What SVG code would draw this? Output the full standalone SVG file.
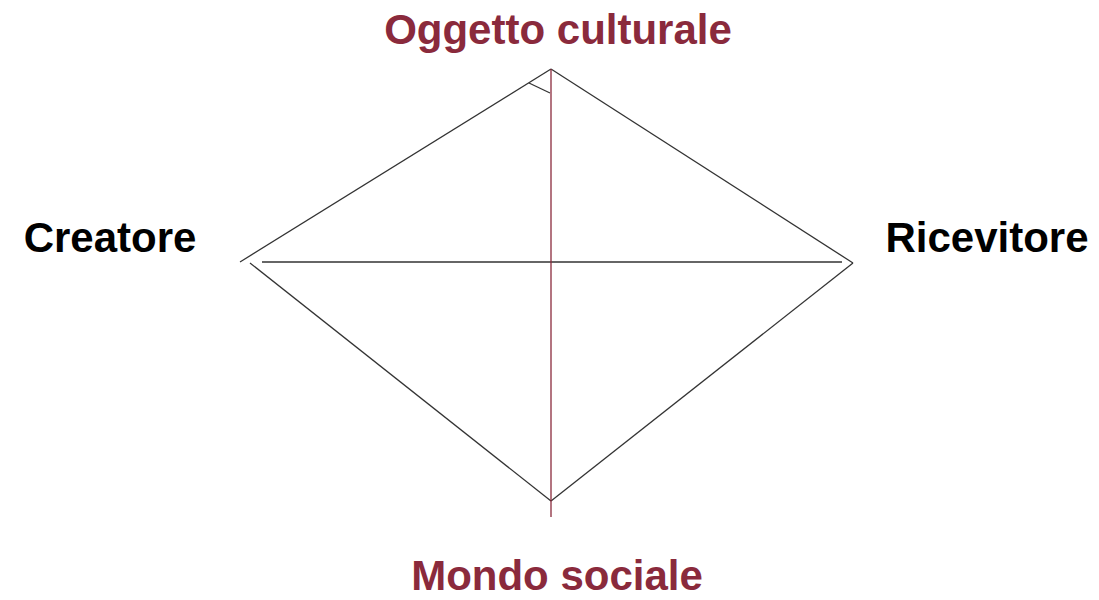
<svg xmlns="http://www.w3.org/2000/svg" width="1099" height="600" viewBox="0 0 1099 600">
<style>
.lbl{font-family:"Liberation Sans",Arial,sans-serif;font-weight:bold;font-size:42px}
.red{fill:#8a2a3c}
.blk{fill:#000}
.edge{stroke:#333;stroke-width:1.3;fill:none}
.axis{stroke:#8a2a3c;stroke-width:1.3;fill:none}
</style>
<rect width="1099" height="600" fill="#fff"/>
<g id="connectors">
<line class="edge" x1="240" y1="262" x2="551" y2="69"/>
<line class="edge" x1="551" y1="69" x2="853" y2="263"/>
<line class="edge" x1="853" y1="263" x2="551" y2="501"/>
<line class="edge" x1="551" y1="501" x2="250" y2="263"/>
<line class="edge" x1="262" y1="262" x2="842" y2="262"/>
<line class="edge" x1="529" y1="83" x2="550" y2="93"/>
<line class="axis" x1="551" y1="69" x2="551" y2="517"/>
</g>
<g id="oggetto"><text class="lbl red" x="558" y="44" text-anchor="middle">Oggetto culturale</text></g>
<g id="creatore"><text class="lbl blk" x="110" y="252" text-anchor="middle">Creatore</text></g>
<g id="ricevitore"><text class="lbl blk" x="987" y="252" text-anchor="middle">Ricevitore</text></g>
<g id="mondo"><text class="lbl red" x="557" y="590" text-anchor="middle">Mondo sociale</text></g>
</svg>
